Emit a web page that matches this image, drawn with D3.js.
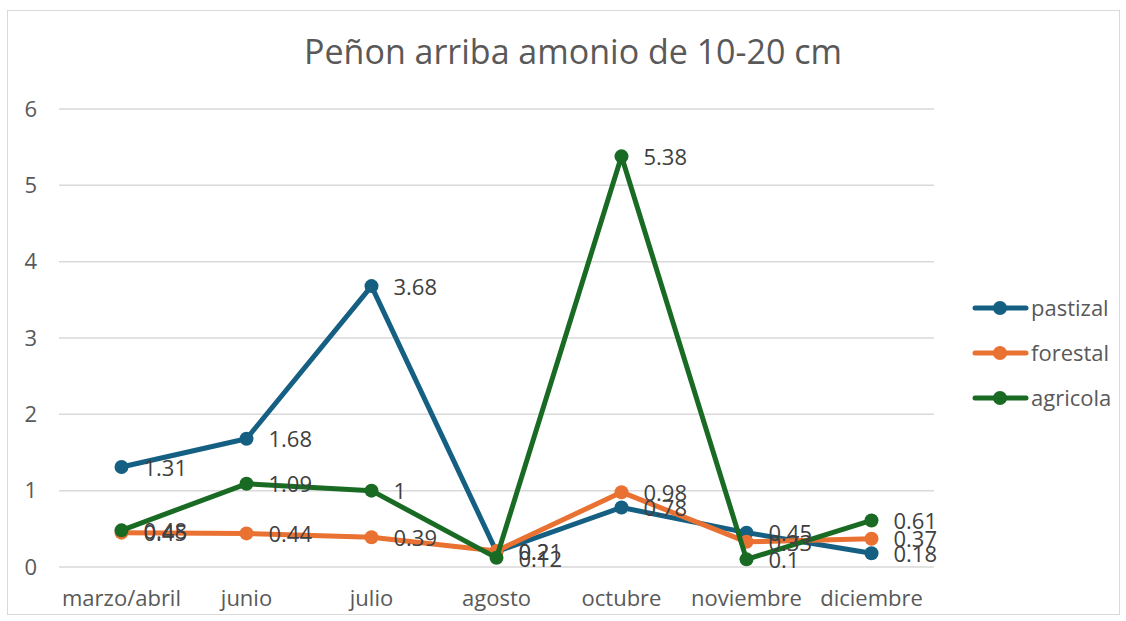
<!DOCTYPE html>
<html>
<head>
<meta charset="utf-8">
<script src="https://cdn.jsdelivr.net/npm/d3@7"></script>
<style>
  body { margin: 0; background: #fff; }
  text { font-family: "Open Sans", "Noto Sans", sans-serif; }
</style>
</head>
<body>
<svg id="chart" width="1126" height="621"></svg>
<script>
// data
months = ['marzo/abril', 'junio', 'julio', 'agosto', 'octubre', 'noviembre', 'diciembre'];
pastizal = [1.31, 1.68, 3.68, 0.2, 0.78, 0.45, 0.18];
forestal = [0.45, 0.44, 0.39, 0.21, 0.98, 0.33, 0.37];
agricola = [0.48, 1.09, 1, 0.12, 5.38, 0.1, 0.61];
seriesNames = ['pastizal', 'forestal', 'agricola'];
yTicks = [0, 1, 2, 3, 4, 5, 6];

colors = {pastizal: '#156082', forestal: '#e97132', agricola: '#196b24'};
seriesData = {pastizal: pastizal, forestal: forestal, agricola: agricola};

width = 1126;
height = 621;
plot = {left: 59, right: 934, top: 109, bottom: 567};

svg = d3.select('#chart');

// chart border
svg.append('rect')
	.attr('x', 7.5).attr('y', 10.5)
	.attr('width', 1112).attr('height', 604)
	.attr('fill', 'none')
	.attr('stroke', '#d9d9d9')
	.attr('stroke-width', 1);

x = d3.scaleBand().domain(months).range([plot.left, plot.right]);
y = d3.scaleLinear().domain([0, 6]).range([plot.bottom, plot.top]);

// gridlines
svg.append('g').selectAll('line')
	.data(yTicks)
	.join('line')
	.attr('x1', plot.left).attr('x2', plot.right)
	.attr('y1', d => y(d)).attr('y2', d => y(d))
	.attr('stroke', '#d9d9d9')
	.attr('stroke-width', 1.5);

// y labels
svg.append('g').selectAll('text')
	.data(yTicks)
	.join('text')
	.attr('x', 37).attr('y', d => y(d))
	.attr('dy', '0.35em')
	.attr('text-anchor', 'end')
	.attr('font-size', 22)
	.attr('fill', '#595959')
	.text(d => d);

// x labels
svg.append('g').selectAll('text')
	.data(months)
	.join('text')
	.attr('x', d => x(d) + x.bandwidth()/2)
	.attr('y', 606)
	.attr('text-anchor', 'middle')
	.attr('font-size', 22)
	.attr('fill', '#595959')
	.text(d => d);

// title
svg.append('text')
	.attr('x', 573).attr('y', 64)
	.attr('text-anchor', 'middle')
	.attr('font-size', 34)
	.attr('fill', '#595959')
	.text('Peñon arriba amonio de 10-20 cm');

line = d3.line()
	.x((d, i) => x(months[i]) + x.bandwidth()/2)
	.y(d => y(d));

seriesNames.forEach(name => {
	let vals = seriesData[name];
	let g = svg.append('g');
	g.append('path')
		.attr('d', line(vals))
		.attr('fill', 'none')
		.attr('stroke', colors[name])
		.attr('stroke-width', 5)
		.attr('stroke-linejoin', 'round')
		.attr('stroke-linecap', 'round');
	g.selectAll('circle')
		.data(vals)
		.join('circle')
		.attr('cx', (d, i) => x(months[i]) + x.bandwidth()/2)
		.attr('cy', d => y(d))
		.attr('r', 7)
		.attr('fill', colors[name]);
});

// data labels drawn on top
seriesNames.forEach(name => {
	let vals = seriesData[name];
	svg.append('g').selectAll('text')
		.data(vals)
		.join('text')
		.attr('x', (d, i) => x(months[i]) + x.bandwidth()/2 + 22)
		.attr('y', d => y(d) + 1)
		.attr('dy', '0.35em')
		.attr('font-size', 22)
		.attr('fill', '#404040')
		.text(d => d);
});

// legend
legend = svg.append('g');
seriesNames.forEach((name, i) => {
	let ly = 308 + i * 45;
	legend.append('line')
		.attr('x1', 975).attr('x2', 1026)
		.attr('y1', ly).attr('y2', ly)
		.attr('stroke', colors[name])
		.attr('stroke-width', 5)
		.attr('stroke-linecap', 'round');
	legend.append('circle')
		.attr('cx', 1000).attr('cy', ly).attr('r', 7)
		.attr('fill', colors[name]);
	legend.append('text')
		.attr('x', 1031).attr('y', ly)
		.attr('dy', '0.35em')
		.attr('font-size', 22)
		.attr('fill', '#595959')
		.text(name);
});
</script>
</body>
</html>
